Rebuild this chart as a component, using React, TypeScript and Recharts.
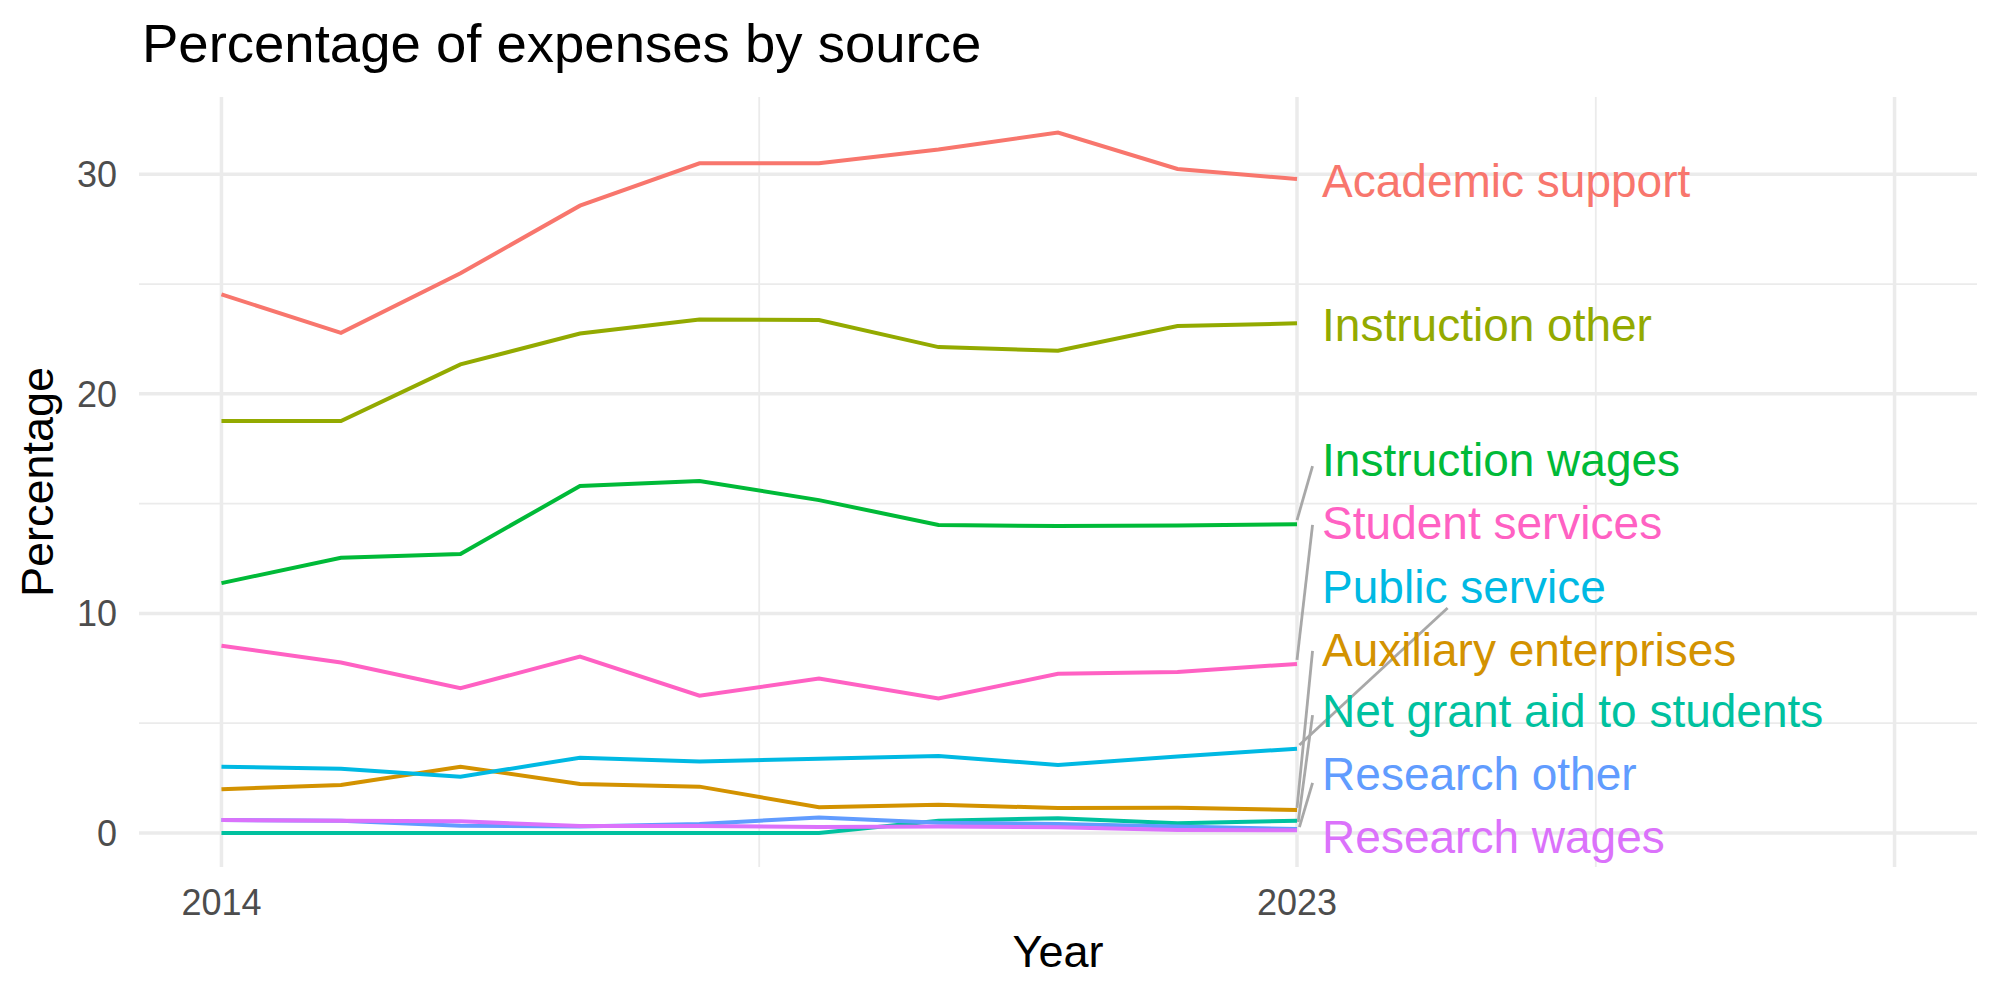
import React from 'react';
import { LineChart, Line, XAxis, YAxis, ReferenceLine, ReferenceDot } from 'recharts';

const years = [2014, 2015, 2016, 2017, 2018, 2019, 2020, 2021, 2022, 2023];

const academicSupport = [24.53, 22.78, 25.49, 28.57, 30.5, 30.5, 31.13, 31.9, 30.24, 29.78];
const auxiliaryEnterprises = [1.99, 2.19, 3.02, 2.23, 2.11, 1.17, 1.28, 1.14, 1.15, 1.05];
const instructionOther = [18.76, 18.76, 21.34, 22.75, 23.39, 23.36, 22.13, 21.96, 23.09, 23.21];
const instructionWages = [11.38, 12.53, 12.71, 15.8, 16.03, 15.16, 14.03, 13.98, 14.0, 14.06];
const netGrantAid = [0, 0, 0, 0, 0, 0, 0.56, 0.67, 0.44, 0.56];
const publicService = [3.02, 2.93, 2.56, 3.43, 3.25, 3.38, 3.51, 3.1, 3.48, 3.84];
const researchOther = [0.59, 0.56, 0.33, 0.29, 0.41, 0.71, 0.47, 0.41, 0.29, 0.18];
const researchWages = [0.59, 0.56, 0.53, 0.32, 0.32, 0.27, 0.29, 0.26, 0.14, 0.12];
const studentServices = [8.53, 7.76, 6.59, 8.03, 6.25, 7.03, 6.13, 7.25, 7.33, 7.7];

const yTicks = [0, 10, 20, 30];
const yMinor = [5, 15, 25];
const xTicks = [2014, 2023];
const xMajorGrid = [2014, 2023, 2028];
const xMinorGrid = [2018.5, 2025.5];

// label anchor (year, value) after repel, and connector segment start/end
const series = [
  { name: 'Academic support', color: '#F8766D', values: academicSupport, label: [2023.21, 29.74], seg: null },
  { name: 'Auxiliary enterprises', color: '#D39200', values: auxiliaryEnterprises, label: [2023.21, 8.38], seg: [[2023.0, 1.14], [2023.13, 8.29]] },
  { name: 'Instruction other', color: '#93AA00', values: instructionOther, label: [2023.21, 23.18], seg: null },
  { name: 'Instruction wages', color: '#00BA38', values: instructionWages, label: [2023.21, 17.03], seg: [[2023.0, 14.25], [2023.13, 16.71]] },
  { name: 'Net grant aid to students', color: '#00C19F', values: netGrantAid, label: [2023.21, 5.58], seg: [[2023.01, 0.5], [2023.13, 5.37]] },
  { name: 'Public service', color: '#00B9E3', values: publicService, label: [2023.21, 11.25], seg: [[2023.02, 4.01], [2024.26, 10.25]] },
  { name: 'Research other', color: '#619CFF', values: researchOther, label: [2023.21, 2.73], seg: [[2023.02, 0.27], [2023.13, 2.28]] },
  { name: 'Research wages', color: '#DB72FB', values: researchWages, label: [2023.21, -0.16], seg: null },
  { name: 'Student services', color: '#FF61C3', values: studentServices, label: [2023.21, 14.14], seg: [[2023.0, 7.88], [2023.13, 14.03]] },
];

const data = years.map((year, i) => {
  const row: any = { year };
  series.forEach((s) => {
    row[s.name] = s.values[i];
  });
  return row;
});

const FONT = '"Liberation Sans", Arial, Helvetica, sans-serif';
const GRID = '#EBEBEB';

export default function App() {
  return (
    <div style={{ position: 'absolute', left: 0, top: 0, width: 2000, height: 1000, background: '#fff', fontFamily: FONT }}>
      <div
        style={{
          position: 'absolute',
          left: 142,
          top: 16,
          fontSize: 54.5,
          lineHeight: '55px',
          color: '#000',
          whiteSpace: 'nowrap',
          zIndex: 2,
        }}
      >
        Percentage of expenses by source
      </div>
      <LineChart width={2000} height={1000} data={data} margin={{ top: 97, right: 23, bottom: 0, left: 0 }}>
        <XAxis
          dataKey="year"
          type="number"
          domain={[2013.31, 2028.69]}
          ticks={xTicks}
          allowDataOverflow
          height={133}
          tickLine={false}
          axisLine={false}
          tickSize={0}
          tickMargin={22}
          tick={{ fontSize: 36, fill: '#4D4D4D', fontFamily: FONT }}
          label={({ viewBox }: any) => (
            <text x={viewBox.x + viewBox.width / 2} y={967} textAnchor="middle" fontSize={45} fill="#000" fontFamily={FONT}>
              Year
            </text>
          )}
        />
        <YAxis
          type="number"
          domain={[-1.55, 33.52]}
          ticks={yTicks}
          allowDataOverflow
          width={139}
          tickLine={false}
          axisLine={false}
          tickSize={0}
          tickMargin={22}
          tick={{ fontSize: 36, fill: '#4D4D4D', fontFamily: FONT }}
          label={({ viewBox }: any) => {
            const cy = viewBox.y + viewBox.height / 2;
            return (
              <text x={53} y={cy} transform={`rotate(-90, 53, ${cy})`} textAnchor="middle" fontSize={45} fill="#000" fontFamily={FONT}>
                Percentage
              </text>
            );
          }}
        />
        {yMinor.map((v) => (
          <ReferenceLine key={'ym' + v} y={v} stroke={GRID} strokeWidth={1.8} />
        ))}
        {xMinorGrid.map((v) => (
          <ReferenceLine key={'xm' + v} x={v} stroke={GRID} strokeWidth={1.8} />
        ))}
        {yTicks.map((v) => (
          <ReferenceLine key={'y' + v} y={v} stroke={GRID} strokeWidth={3.5} />
        ))}
        {xMajorGrid.map((v) => (
          <ReferenceLine key={'x' + v} x={v} stroke={GRID} strokeWidth={3.5} />
        ))}
        {series.map((s) => (
          <Line
            key={s.name}
            type="linear"
            dataKey={s.name}
            stroke={s.color}
            strokeWidth={4}
            dot={false}
            activeDot={false}
            isAnimationActive={false}
          />
        ))}
        {series
          .filter((s) => s.seg)
          .map((s) => (
            <ReferenceLine
              key={'seg' + s.name}
              segment={[
                { x: s.seg![0][0], y: s.seg![0][1] },
                { x: s.seg![1][0], y: s.seg![1][1] },
              ]}
              stroke="#A8A8A8"
              strokeWidth={2.8}
              ifOverflow="visible"
            />
          ))}
        {series.map((s) => (
          <ReferenceDot
            key={'lab' + s.name}
            x={s.label[0]}
            y={s.label[1]}
            r={1}
            fill="none"
            stroke="none"
            ifOverflow="visible"
            label={({ viewBox }: any) => (
              <text
                x={viewBox.x + viewBox.width / 2}
                y={viewBox.y + viewBox.height / 2}
                dy="0.36em"
                textAnchor="start"
                fontSize={46}
                fill={s.color}
                fontFamily={FONT}
              >
                {s.name}
              </text>
            )}
          />
        ))}
      </LineChart>
    </div>
  );
}
